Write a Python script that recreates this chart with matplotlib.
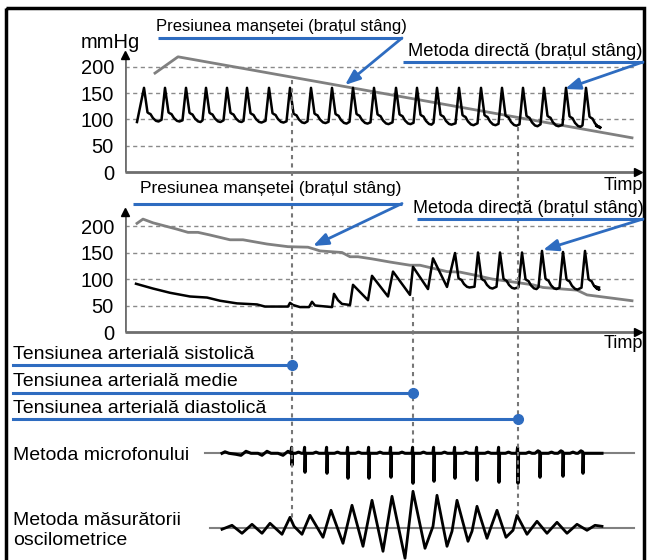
import matplotlib
matplotlib.use("Agg")
import matplotlib.pyplot as plt
from matplotlib.patches import Rectangle

plt.rcParams['font.family'] = ['Liberation Sans', 'DejaVu Sans']

# ---------------- data ----------------
# time axis is in arbitrary units shared by all panels
yticks = [0, 50, 100, 150, 200]
ytick_labels = ["0", "50", "100", "150", "200"]

# Panel 1 : direct (intra-arterial) pressure, left arm
top_beat_peaks = [144, 165, 186, 206, 227, 247, 269, 290, 311, 332, 353,
                  374, 396, 417, 437, 459, 481, 502, 523, 544, 566, 586]
top_beat_sys = [160] * 22
top_beat_dia = [96, 96, 95, 95, 95, 94, 94, 93, 93, 92, 92,
                91, 91, 90, 90, 89, 89, 88, 87, 87, 86, 85]
# single pulse template (offset from peak, fraction between dia and sys)
pulse_dt = [-3.5, 0.0, 3.5, 5.0, 6.5, 9.0, 12.0, 14.5]
pulse_frac = [0.05, 1.0, 0.27, 0.24, 0.22, 0.1, 0.02, 0.0]

top_cuff_t = [155, 178, 632]
top_cuff_p = [188, 219, 65]

# Panel 2 : cuff pressure (grey) and distal direct pressure (black)
cuff2_t = [137, 143, 153, 177, 188, 198, 210, 230, 243, 267, 288, 308, 315,
           320, 342, 350, 358, 372, 390, 410, 420, 447, 460, 473, 492, 533,
           543, 577, 587, 632]
cuff2_p = [205, 213, 206, 194, 188, 188, 183, 174, 174, 166, 161, 160, 156,
           153, 150, 142, 142, 138, 132, 126, 126, 114, 113, 108, 100, 89,
           84, 79, 70, 59]

dist_t = [136, 153, 170, 190, 207, 220, 237, 257, 265, 288, 290, 293, 300,
          309, 312, 315, 332, 334, 338, 342, 350, 353, 368, 372, 388, 393,
          410, 413, 428, 433, 447]
dist_p = [91, 82, 74, 67, 65, 59, 54, 52, 48, 48, 55, 51, 47,
          47, 57, 50, 47, 72, 60, 53, 51, 89, 60, 106, 67, 114,
          70, 123, 81, 139, 85]
late_beat_peaks = [455, 478, 500, 522, 542, 563, 585]
late_beat_sys = [149, 150, 150, 150, 153, 151, 153]
late_beat_dia = [84, 82, 82, 81, 81, 80, 80]

# Blood pressure determination times
sbp_t, map_t, dbp_t = 292, 413, 518

# Microphone (Korotkoff) signal : spikes (time, depth) in arbitrary units
mic_pre_t = [222, 225, 229, 236, 241, 246, 251, 258, 262, 267, 271, 278,
             283, 288]
mic_pre_a = [0, 1.5, 0, -1, -2, 2, 0, 0, -2, 2, 0, 0, -2, 2]
mic_spike_t = [292, 305, 327, 348, 369, 391, 413, 434, 455, 477, 499, 518,
               540, 563, 583]
mic_spike_d = [12, 19, 20, 25, 25, 24, 30, 28, 25, 27, 29, 30, 24, 23, 20]
mic_end_t = 602

# Oscillometric signal (time, amplitude)
osc_t = [222, 232, 242, 252, 262, 270, 282, 290, 294, 302, 310, 323, 331,
         343, 352, 363, 372, 383, 392, 405, 413, 425, 433, 437, 447, 452,
         457, 468, 472, 477, 487, 497, 506, 513, 517, 527, 537, 547, 557,
         567, 577, 587, 595, 602]
osc_a = [-1, 3, -5, 4, -5, 5, -6, 11, 2, -6, 13, -9, 18, -15, 23, -18, 28,
         -23, 32, -30, 37, -20, 2, 33, -18, -3, 28, -13, -3, 22, -10, 18,
         -9, -2, 13, -6, 7, -5, 6, -5, 4, -2, 3, 2]

# ---------------- figure ----------------
W, H = 649, 560
fig = plt.figure(figsize=(W / 100, H / 100), dpi=100)

BLUE = '#2e6cc0'
GREY = '#808080'
AXGREY = '#6e6e6e'


def add_px_axes(x0, x1, y0, y1):
    """axes covering pixel box x0..x1, y0(top)..y1(bottom)"""
    return fig.add_axes([x0 / W, 1 - y1 / H, (x1 - x0) / W, (y1 - y0) / H])


def pulse_train(peaks, sys, dia):
    tt, pp = [], []
    for tp, s, d in zip(peaks, sys, dia):
        for dt, f in zip(pulse_dt, pulse_frac):
            tt.append(tp + dt)
            pp.append(d + f * (s - d))
    return tt, pp


def setup_chart(ax, ytop_px, ybot_px, zero_px, k, arrow_top):
    ax.set_xlim(125, W)
    ax.set_ylim((zero_px - ybot_px) / k, (zero_px - ytop_px) / k)
    for s in ax.spines.values():
        s.set_visible(False)
    ax.patch.set_alpha(0)
    ax.set_xticks([])
    ax.set_yticks(yticks)
    ax.set_yticklabels(ytick_labels, fontsize=14.5)
    ax.tick_params(axis='y', length=0, pad=8)
    for v in yticks[1:]:
        ax.plot([125, 635], [v, v], color='#8a8a8a', lw=1,
                ls=(0, (3, 2.5)), zorder=1)
    ax.plot([125, 125], [0, arrow_top - 4], color=AXGREY, lw=2, zorder=3,
            solid_capstyle='butt')
    ax.plot([125], [arrow_top - 4], marker='^', color='black', ms=6, zorder=4,
            clip_on=False)
    ax.plot([125, 637], [0, 0], color=AXGREY, lw=2, zorder=3,
            solid_capstyle='butt')
    ax.plot([638], [0], marker='>', color='black', ms=6, zorder=4,
            clip_on=False)


# Panel 1
k1 = 0.526
ax1 = add_px_axes(125, W, 40, 182)
setup_chart(ax1, 40, 182, 172, k1, 226)
ax1.plot(top_cuff_t, top_cuff_p, color=GREY, lw=2, zorder=5)
t, p = pulse_train(top_beat_peaks, top_beat_sys, top_beat_dia)
t = [137] + t[1:] + [596, 600]
p = [95] + p[1:] + [88, 84]
ax1.plot(t, p, color='black', lw=1.8, zorder=6)

# Panel 2
k2 = 0.53
ax2 = add_px_axes(125, W, 200, 342)
setup_chart(ax2, 200, 342, 332, k2, 230)
ax2.plot(cuff2_t, cuff2_p, color=GREY, lw=2, zorder=5)
t2, p2 = pulse_train(late_beat_peaks, late_beat_sys, late_beat_dia)
ax2.plot(dist_t + t2[1:] + [595, 599], dist_p + p2[1:] + [86, 84],
         color='black', lw=1.8, zorder=6)

# Microphone panel
axm = add_px_axes(125, W, 425, 490)
axm.set_xlim(125, W)
axm.set_ylim(-(490 - 453.3), 453.3 - 425)
axm.axis('off')
axm.plot([205, 634], [0, 0], color=GREY, lw=1.5, zorder=2)
mt, ma = list(mic_pre_t), list(mic_pre_a)
for i, (ts, d) in enumerate(zip(mic_spike_t, mic_spike_d)):
    if ts < dbp_t + 10:
        mt += [ts - 1.2, ts - 0.4, ts, ts + 0.6]
        ma += [0, 6, -d, 0]
    else:
        mt += [ts - 5, ts - 2, ts - 0.3, ts, ts + 0.6]
        ma += [0, 2.5, 1.5, -d, 0]
    if i + 1 < len(mic_spike_t):
        mid = (ts + mic_spike_t[i + 1]) / 2
        mt += [mid - 3, mid, mid + 3]
        ma += [0, 1.2, 0]
mt += [mic_end_t]
ma += [0]
axm.plot(mt, ma, color='black', lw=2.2, zorder=3, clip_on=False)

# Oscillometric panel
axo = add_px_axes(125, W, 480, 560)
axo.set_xlim(125, W)
axo.set_ylim(-(560 - 528.3), 528.3 - 480)
axo.axis('off')
axo.plot([210, 634], [0, 0], color=GREY, lw=1.5, zorder=2)
axo.plot(osc_t, osc_a, color='black', lw=2, zorder=3, clip_on=False)

# ---------------- overlay (texts, annotations) ----------------
ov = fig.add_axes([0, 0, 1, 1])
ov.set_xlim(0, W)
ov.set_ylim(H, 0)
ov.axis('off')

ov.add_patch(Rectangle((6, 8), 638, 570, fill=False, lw=2.5,
                       edgecolor='black', clip_on=False))

# dotted guide lines
for x, y0, y1 in [(sbp_t, 80, 518), (map_t, 297, 446), (dbp_t, 127, 515)]:
    ov.plot([x, x], [y0, y1], color='#777777', lw=1.5, ls=(0, (2, 2)),
            zorder=1)

ov.text(81, 48, "mmHg", fontsize=14.5, va='baseline')
ov.text(643, 189.5, "Timp", fontsize=13, ha='right', va='baseline')
ov.text(643, 348, "Timp", fontsize=13, ha='right', va='baseline')


def callout(text, tx, ty, fs, line_y, lx0, lx1, tip):
    ov.text(tx, ty, text, fontsize=fs, va='baseline')
    ov.plot([lx0, lx1], [line_y, line_y], color=BLUE, lw=2.2,
            solid_capstyle='butt')
    ov.annotate('', xy=tip, xytext=(lx1, line_y),
                arrowprops=dict(arrowstyle='-|>,head_length=0.9,head_width=0.35',
                                color=BLUE, lw=2, shrinkA=0, shrinkB=0))


callout("Presiunea manșetei (brațul stâng)", 156, 31, 12, 38, 158, 402,
        (345, 85))
callout("Metoda directă (brațul stâng)", 408, 56, 13.2, 62, 403, 643,
        (565, 89))
callout("Presiunea manșetei (brațul stâng)", 140, 193, 12.5, 203.5, 133, 402,
        (313, 246))
callout("Metoda directă (brațul stâng)", 413, 213, 13, 219, 417, 643,
        (543, 250))

for label, by, ly, xe in [("Tensiunea arterială sistolică", 359, 365, sbp_t),
                          ("Tensiunea arterială medie", 386, 392.7, map_t),
                          ("Tensiunea arterială diastolică", 413, 419, dbp_t)]:
    ov.text(13, by, label, fontsize=14, va='baseline')
    ov.plot([13, xe], [ly, ly], color=BLUE, lw=2.2)
    ov.plot([xe], [ly], marker='o', color=BLUE, ms=7)

ov.text(13, 460, "Metoda microfonului", fontsize=14, va='baseline')
ov.text(13, 525, "Metoda măsurătorii", fontsize=14, va='baseline')
ov.text(13, 545, "oscilometrice", fontsize=14, va='baseline')

fig.savefig("out.png", dpi=100)
